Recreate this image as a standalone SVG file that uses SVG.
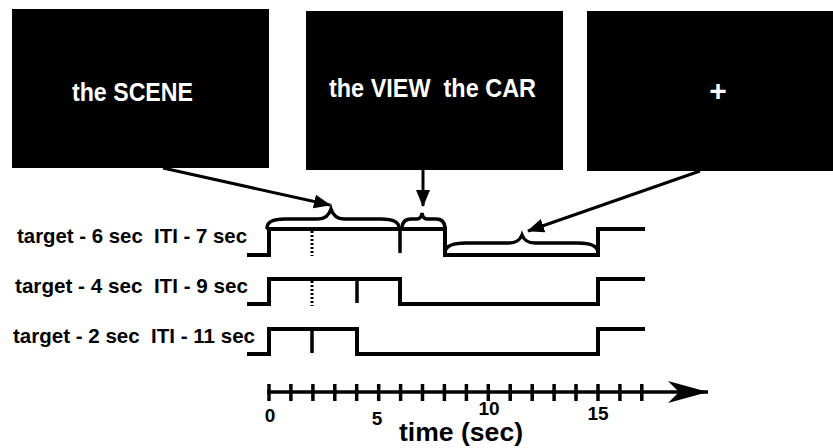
<svg xmlns="http://www.w3.org/2000/svg" width="833" height="448" viewBox="0 0 833 448">
<defs>
<style>
text{white-space:pre;}
.box{fill:#000;}
.bt{fill:#fff;font-family:"Liberation Sans",Arial,sans-serif;font-weight:bold;font-size:26px;}
.lbl{fill:#000;font-family:"Liberation Sans",Arial,sans-serif;font-weight:bold;font-size:21px;}
.num{fill:#000;font-family:"Liberation Sans",Arial,sans-serif;font-weight:bold;font-size:19px;text-anchor:middle;}
.ttl{fill:#000;font-family:"Liberation Sans",Arial,sans-serif;font-weight:bold;font-size:25px;}
.wave{fill:none;stroke:#000;stroke-width:4;stroke-linejoin:miter;stroke-linecap:butt;}
.tick{stroke:#000;stroke-width:3.5;}
.dot{stroke:#000;stroke-width:3;stroke-dasharray:2 2;}
.brace{fill:none;stroke:#000;stroke-width:3.4;stroke-linecap:round;}
.conn{fill:none;stroke:#000;stroke-width:3;}
</style>
<marker id="ah" markerUnits="userSpaceOnUse" markerWidth="18" markerHeight="14" refX="16" refY="7" orient="auto">
<path d="M0,0 L17,7 L0,14 z" fill="#000"/>
</marker>
<marker id="axh" markerUnits="userSpaceOnUse" markerWidth="42" markerHeight="24" refX="40" refY="11" orient="auto">
<path d="M0,0 L40,11 L0,22 L11,11 z" fill="#000"/>
</marker>
</defs>
<rect width="833" height="448" fill="#fff"/>

<g id="box-scene">
<rect class="box" x="12" y="9" width="257" height="159"/>
<text class="bt" x="72" y="101" textLength="121" lengthAdjust="spacingAndGlyphs">the SCENE</text>
</g>
<g id="box-view-car">
<rect class="box" x="306" y="11" width="257" height="159"/>
<text class="bt" x="329" y="97" textLength="207" lengthAdjust="spacingAndGlyphs" xml:space="preserve">the VIEW  the CAR</text>
</g>
<g id="box-fixation">
<rect class="box" x="587" y="11" width="246" height="160"/>
<text class="bt" x="718" y="101" text-anchor="middle" style="font-size:30px">+</text>
</g>

<g id="row1">
<text class="lbl" x="17" y="243" textLength="230" lengthAdjust="spacingAndGlyphs" xml:space="preserve">target - 6 sec  ITI - 7 sec</text>
<path class="wave" d="M247,255 H269 V229 H445 V255 H598 V229 H645"/>
<line class="tick" x1="400" y1="229" x2="400" y2="253"/>
<line class="dot" x1="312" y1="231" x2="312" y2="256"/>
</g>
<g id="row2">
<text class="lbl" x="15" y="293" textLength="233" lengthAdjust="spacingAndGlyphs" xml:space="preserve">target - 4 sec  ITI - 9 sec</text>
<path class="wave" d="M247,304 H269 V279 H400 V304 H598 V279 H645"/>
<line class="tick" x1="357" y1="279" x2="357" y2="303"/>
<line class="dot" x1="312" y1="281" x2="312" y2="306"/>
</g>
<g id="row3">
<text class="lbl" x="13" y="343" textLength="242" lengthAdjust="spacingAndGlyphs" xml:space="preserve">target - 2 sec  ITI - 11 sec</text>
<path class="wave" d="M247,354 H269 V329 H357 V354 H598 V329 H645"/>
<line class="tick" x1="312" y1="329" x2="312" y2="353"/>
</g>

<g id="braces">
<path class="brace" d="M267,228 Q267,219 285,219 L318,219 Q328,219 331,209 Q334,219 344,219 L381,219 Q399,219 399,228"/>
<path class="brace" d="M402,227 Q403,219 411,219 L417,219 Q421,219 422,213 Q423,219 427,219 L436,219 Q444,219 445,227"/>
<path class="brace" d="M445,252 Q446,243 466,243 L509,243 Q519,243 522,235 Q525,243 535,243 L578,243 Q597,243 598,252"/>
</g>

<g id="connectors">
<line class="conn" x1="163" y1="168" x2="330" y2="205" marker-end="url(#ah)"/>
<line class="conn" x1="423" y1="170" x2="423" y2="206" marker-end="url(#ah)"/>
<line class="conn" x1="700" y1="171" x2="528" y2="231" marker-end="url(#ah)"/>
</g>

<g id="time-axis">
<line class="conn" x1="267" y1="392" x2="708" y2="392" style="stroke-width:3.5" marker-end="url(#axh)"/>
<g class="ticks">
<line class="tick" x1="269" y1="384" x2="269" y2="401"/>
<line class="tick" x1="290.9" y1="384" x2="290.9" y2="401"/>
<line class="tick" x1="312.9" y1="384" x2="312.9" y2="401"/>
<line class="tick" x1="334.8" y1="384" x2="334.8" y2="401"/>
<line class="tick" x1="356.7" y1="384" x2="356.7" y2="401"/>
<line class="tick" x1="378.7" y1="384" x2="378.7" y2="401"/>
<line class="tick" x1="400.6" y1="384" x2="400.6" y2="401"/>
<line class="tick" x1="422.5" y1="384" x2="422.5" y2="401"/>
<line class="tick" x1="444.4" y1="384" x2="444.4" y2="401"/>
<line class="tick" x1="466.4" y1="384" x2="466.4" y2="401"/>
<line class="tick" x1="488.3" y1="384" x2="488.3" y2="401"/>
<line class="tick" x1="510.2" y1="384" x2="510.2" y2="401"/>
<line class="tick" x1="532.2" y1="384" x2="532.2" y2="401"/>
<line class="tick" x1="554.1" y1="384" x2="554.1" y2="401"/>
<line class="tick" x1="576" y1="384" x2="576" y2="401"/>
<line class="tick" x1="598" y1="384" x2="598" y2="401"/>
<line class="tick" x1="619.9" y1="384" x2="619.9" y2="401"/>
<line class="tick" x1="641.8" y1="384" x2="641.8" y2="401"/>
</g>
<text class="num" x="270" y="422">0</text>
<text class="num" x="377" y="425">5</text>
<text class="num" x="489" y="415">10</text>
<text class="num" x="598" y="420">15</text>
<text class="ttl" x="399" y="441" textLength="124" lengthAdjust="spacingAndGlyphs">time (sec)</text>
</g>
</svg>
